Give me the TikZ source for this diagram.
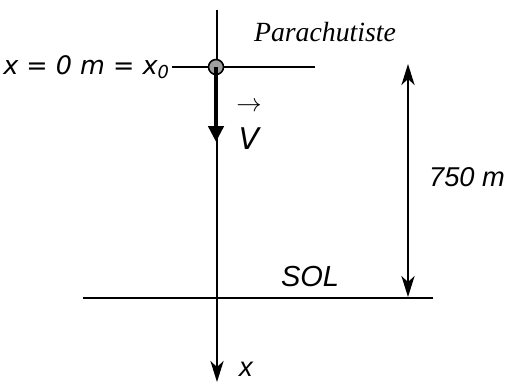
\documentclass[tikz,border=0pt]{standalone}
\usepackage{fontspec}
\setmainfont{Liberation Serif}
\setsansfont{Liberation Sans}
\newfontfamily\dejavu{DejaVu Sans}
\usetikzlibrary{arrows.meta, positioning}

\begin{document}
\begin{tikzpicture}[
    x=0.02cm, y=-0.02cm,
    axis/.style={line width=0.9pt},
    axisarrow/.style={axis, -{Stealth[length=12pt, width=7.5pt, inset=3.5pt]}},
    dimarrow/.style={axis, {Stealth[length=12pt, width=7.5pt, inset=3.5pt]}-{Stealth[length=12pt, width=7.5pt, inset=3.5pt]}},
    speed/.style={line width=2.8pt, -{Triangle[length=9pt, width=8.5pt]}},
    mass/.style={circle, draw, line width=0.9pt, fill=gray!75, minimum size=0.3cm, inner sep=0pt},
    lbl/.style={font=\sffamily\itshape\fontsize{15.5}{18}\selectfont, inner sep=1pt},
    wideLbl/.style={font=\dejavu\itshape\fontsize{14.5}{17}\selectfont, inner sep=1pt},
    personlbl/.style={font=\rmfamily\itshape\fontsize{15.8}{18}\selectfont, inner sep=1pt},
]
\useasboundingbox (0,0) rectangle (506,383);

% === Axis ===
\coordinate (axtop) at (217,10);
\coordinate (axbot) at (217,382);
\draw[axisarrow] (axtop) -- (axbot);
\node[lbl] (xlab) at (246,369) {x};

% === Start position ===
\coordinate (startl) at (172,67);
\coordinate (startr) at (315,67);
\draw[axis] (startl) -- (startr);
\node[wideLbl, anchor=east] (origin) at (startl) {x = 0 m = x\textsubscript{0}};
\node[personlbl] (parachutiste) at (325,32) {Parachutiste};

% === Speed ===
\node[mass] (para) at (216,67) {};
\coordinate (vtip) at (216,142);
\draw[speed] (para.center) -- (vtip);
\node[wideLbl, font=\dejavu\itshape\fontsize{17}{19}\selectfont, align=center] (vlab) at (249,126)
  {{\normalfont\fontsize{15}{15}\selectfont$\rightarrow$}\\[3pt]V};

% === Ground ===
\coordinate (gndl) at (83,298);
\coordinate (gndr) at (433,298);
\draw[axis] (gndl) -- (gndr);
\node[lbl, font=\sffamily\itshape\fontsize{16.5}{19}\selectfont] (sol) at (310,277) {SOL};

% === Height ===
\coordinate (dimtop) at (408,64);
\coordinate (dimbot) at (408,297);
\draw[dimarrow] (dimtop) -- (dimbot);
\node[lbl] (height) at (467,177) {750 m};

\end{tikzpicture}
\end{document}
